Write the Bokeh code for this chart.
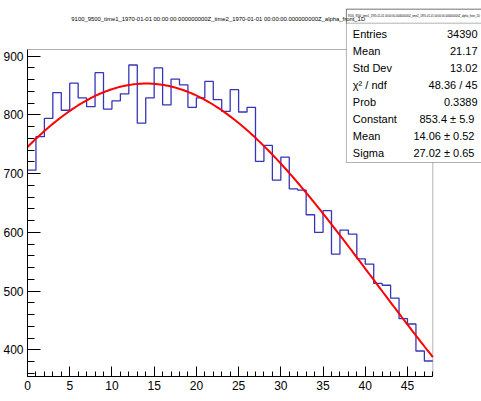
import numpy as np
from bokeh.plotting import figure
from bokeh.models import Range1d, SingleIntervalTicker, Label, BoxAnnotation
from bokeh.embed import file_html
from bokeh.resources import INLINE

# ---- data ----
title_text = ("9100_9500_time1_1970-01-01 00:00:00.000000000Z_time2_"
              "1970-01-01 00:00:00.000000000Z_alpha_front_1D")
bin_edges = list(range(0, 49))
counts = [706, 763, 794, 838, 808, 854, 829, 814, 872, 810, 824, 836, 885, 786,
          829, 880, 817, 861, 851, 813, 829, 857, 826, 806, 843, 805, 813, 721,
          748, 689, 728, 674, 672, 630, 600, 637, 563, 604, 597, 555, 546, 513,
          510, 488, 453, 444, 398, 381]
fit_constant = 853.4
fit_mean = 14.06
fit_sigma = 27.02
stat_names = ["Entries", "Mean", "Std Dev", "\u03c7\u00b2 / ndf", "Prob",
              "Constant", "Mean", "Sigma"]
stat_values = ["34390", "21.17", "13.02", "48.36 / 45", "0.3389",
               "853.4  \u00b1 5.9", "14.06  \u00b1 0.52", "27.02  \u00b1 0.65"]

# ---- layout ----
W, H = 481, 401
# pixel box of the histogram's own axes area
AL, AR, AT, AB = 24, 432, 49, 376
X0, X1 = 0, 48
Y0, Y1 = 354.6, 911.4
FONT = "Liberation Sans"
KX = (X1 - X0) / (AR - AL)
KY = (Y1 - Y0) / (AB - AT)

def sx(px):
    return X0 + (px - AL) * KX

def sy(py):
    return Y1 - (py - AT) * KY

# the Bokeh frame covers everything right of / above the axes so that the
# stats box and title (drawn in data space) are not clipped
p = figure(width=W, height=H, output_backend="svg", toolbar_location=None,
           x_range=Range1d(X0, sx(W)), y_range=Range1d(Y0, sy(0)),
           min_border_left=AL, min_border_right=0,
           min_border_top=0, min_border_bottom=H - AB)
p.title = None
p.grid.visible = False
p.outline_line_color = None
p.background_fill_color = "white"
p.border_fill_color = "white"

p.xaxis.ticker = SingleIntervalTicker(interval=5, num_minor_ticks=5)
p.yaxis.ticker = SingleIntervalTicker(interval=100, num_minor_ticks=5)
p.xaxis.bounds = (X0, X1)
p.yaxis.bounds = (Y0, Y1)
for ax in (p.xaxis, p.yaxis):
    ax.axis_line_color = "black"
    ax.major_tick_line_color = "black"
    ax.minor_tick_line_color = "black"
    ax.major_tick_out = 0
    ax.minor_tick_out = 0
    ax.major_label_text_font = FONT
    ax.major_label_text_font_size = "12px"
    ax.major_label_text_color = "black"
p.xaxis.major_tick_in = 10
p.xaxis.minor_tick_in = 5
p.yaxis.major_tick_in = 13
p.yaxis.minor_tick_in = 7
p.xaxis.major_label_standoff = 4
p.yaxis.major_label_standoff = 4

# histogram frame (top and right edges)
p.add_layout(BoxAnnotation(left=X0, right=X1, bottom=Y0, top=Y1,
                           fill_alpha=0, line_color="black", line_width=1,
                           level="underlay"))

# histogram
p.step(x=bin_edges, y=counts + [counts[-1]], mode="after",
       line_color="#3535b8", line_width=1.3)

# fit curve (Gaussian with the displayed fit parameters)
xf = np.linspace(X0, X1, 200)
yf = fit_constant * np.exp(-0.5 * ((xf - fit_mean) / fit_sigma) ** 2)
p.line(xf, yf, line_color="#ff0000", line_width=2)

# stats box
box_l, box_r, box_t, box_sep, box_b = 345, 495, 8.7, 22.7, 162
p.add_layout(BoxAnnotation(left=sx(box_l), right=sx(box_r), top=sy(box_t),
                           bottom=sy(box_b), fill_color="white", fill_alpha=1,
                           line_color="black", line_width=1, level="overlay"))
p.add_layout(BoxAnnotation(left=sx(box_l), right=sx(box_r), top=sy(box_t),
                           bottom=sy(box_sep), fill_alpha=0,
                           line_color="black", line_width=1, level="overlay"))
p.add_layout(Label(x=sx(413), y=sy(15.7), text=title_text, text_font=FONT,
                   text_font_size="2.65px", text_align="center",
                   text_baseline="middle", text_color="black", level="overlay"))
for i, (n, v) in enumerate(zip(stat_names, stat_values)):
    yy = sy(33 + 17.0 * i)
    p.add_layout(Label(x=sx(351.5), y=yy, text=n, text_font=FONT,
                       text_font_size="11px", text_align="left",
                       text_baseline="middle", text_color="black", level="overlay"))
    p.add_layout(Label(x=sx(477), y=yy, text=v, text_font=FONT,
                       text_font_size="11px", text_align="right",
                       text_baseline="middle", text_color="black", level="overlay"))

# title
p.add_layout(Label(x=sx(216), y=sy(18), text=title_text, text_font=FONT,
                   text_font_size="5.9px", text_align="center",
                   text_baseline="middle", text_color="black", level="overlay"))

open("out.html", "w").write(file_html(p, INLINE))
